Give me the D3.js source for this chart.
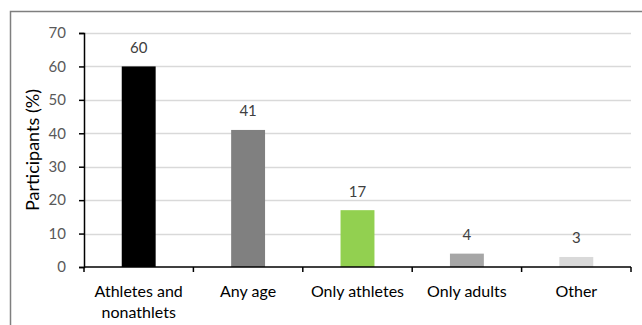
<!DOCTYPE html>
<html>
<head>
<meta charset="utf-8">
<script src="https://cdn.jsdelivr.net/npm/d3@7"></script>
<style>
  html, body { margin: 0; padding: 0; background: #fff; }
  svg { display: block; font-family: Lato, "Open Sans", sans-serif; }
</style>
</head>
<body>
<svg id="chart" width="642" height="325"></svg>
<script>
// Share of participants by eligibility group
const categories = ["Athletes and nonathlets", "Any age", "Only athletes", "Only adults", "Other"];
const values = [60, 41, 17, 4, 3];
const barColors = ["#000000", "#808080", "#92D050", "#A6A6A6", "#D9D9D9"];
const yTicks = [0, 10, 20, 30, 40, 50, 60, 70];
const yTitle = "Participants (%)";

const svg = d3.select("#chart");
const margin = { left: 84, right: 11, top: 33, bottom: 58 };
const W = 642, H = 325;

// Outer frame
svg.append("rect")
  .attr("x", 10.5).attr("y", 11.5)
  .attr("width", W).attr("height", H)
  .attr("fill", "none").attr("stroke", "#7f7f7f").attr("stroke-width", 1.5);

const x = d3.scaleBand()
  .domain(categories)
  .range([margin.left, W - margin.right])
  .paddingInner(0.69).paddingOuter(0.345);

const y = d3.scaleLinear().domain([0, 70]).range([H - margin.bottom, margin.top]);

// Horizontal gridlines
svg.append("g").selectAll("line")
  .data(yTicks.filter(t => t > 0))
  .join("line")
  .attr("x1", margin.left).attr("x2", W - margin.right)
  .attr("y1", d => Math.round(y(d)) + 0.5).attr("y2", d => Math.round(y(d)) + 0.5)
  .attr("stroke", "#d9d9d9").attr("stroke-width", 1.5);

// Bars
svg.append("g").selectAll("rect")
  .data(values)
  .join("rect")
  .attr("x", (d, i) => x(categories[i]))
  .attr("width", x.bandwidth())
  .attr("y", d => y(d))
  .attr("height", d => y(0) - y(d))
  .attr("fill", (d, i) => barColors[i]);

// Value labels
svg.append("g").selectAll("text")
  .data(values)
  .join("text")
  .attr("x", (d, i) => x(categories[i]) + x.bandwidth() / 2)
  .attr("y", d => y(d) - 13.5)
  .attr("text-anchor", "middle")
  .attr("font-size", 15)
  .attr("fill", "#404040")
  .text(d => d);

// Y axis
const yAxis = svg.append("g")
  .attr("transform", `translate(${margin.left},0)`)
  .call(d3.axisLeft(y).tickValues(yTicks).tickSize(5).tickPadding(13));
yAxis.select(".domain").attr("stroke", "#000").attr("stroke-width", 1.5);
yAxis.selectAll(".tick line").attr("stroke", "#000").attr("stroke-width", 1.5);
yAxis.selectAll(".tick text")
  .attr("font-size", 15).attr("fill", "#595959")
  .attr("font-family", "Lato, 'Open Sans', sans-serif");

// X axis with boundary ticks between categories
const bounds = d3.range(categories.length + 1).map(i => margin.left + i * (W - margin.right - margin.left) / categories.length);
svg.append("line")
  .attr("x1", margin.left).attr("x2", W - margin.right)
  .attr("y1", y(0)).attr("y2", y(0))
  .attr("stroke", "#000").attr("stroke-width", 1.5);
svg.append("g").selectAll("line")
  .data(bounds)
  .join("line")
  .attr("x1", d => d).attr("x2", d => d)
  .attr("y1", y(0)).attr("y2", y(0) + 5)
  .attr("stroke", "#000").attr("stroke-width", 1.5);

// Category labels (first one wraps to two lines)
const catLines = [["Athletes and", "nonathlets"], ["Any age"], ["Only athletes"], ["Only adults"], ["Other"]];
const catG = svg.append("g").selectAll("text")
  .data(catLines)
  .join("text")
  .attr("text-anchor", "middle")
  .attr("font-size", 16)
  .attr("fill", "#000");
catG.each(function(lines, i) {
  const cx = x(categories[i]) + x.bandwidth() / 2;
  d3.select(this).selectAll("tspan")
    .data(lines)
    .join("tspan")
    .attr("x", cx)
    .attr("y", (d, j) => y(0) + 30 + j * 21)
    .text(d => d);
});

// Y axis title
svg.append("text")
  .attr("transform", `translate(39,${(y(0) + y(70)) / 2}) rotate(-90)`)
  .attr("text-anchor", "middle")
  .attr("font-size", 18)
  .attr("fill", "#000")
  .text(yTitle);
</script>
</body>
</html>
